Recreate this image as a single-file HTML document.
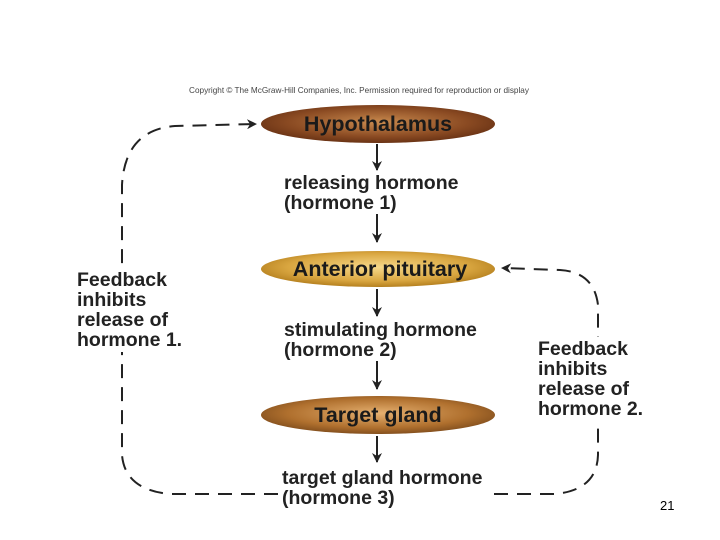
<!DOCTYPE html>
<html><head><style>
body{margin:0;width:720px;height:540px;background:#fff;position:relative;overflow:hidden;font-family:"Liberation Sans",sans-serif}
.t{position:absolute;font-weight:bold;color:#222;font-size:19.5px;line-height:20px;background:#fff}
</style></head><body>
<svg width="720" height="540" style="position:absolute;left:0;top:0">
<defs>
<radialGradient id="g1" cx="50%" cy="45%" r="55%"><stop offset="0" stop-color="#c98a4e"/><stop offset="0.7" stop-color="#8a4a22"/><stop offset="1" stop-color="#6a3315"/></radialGradient>
<radialGradient id="g2" cx="50%" cy="45%" r="55%"><stop offset="0" stop-color="#f6d98a"/><stop offset="0.7" stop-color="#d9a640"/><stop offset="1" stop-color="#b5801f"/></radialGradient>
<radialGradient id="g3" cx="50%" cy="45%" r="55%"><stop offset="0" stop-color="#e5b070"/><stop offset="0.7" stop-color="#b0702e"/><stop offset="1" stop-color="#84501e"/></radialGradient>
<marker id="a" markerWidth="10" markerHeight="10" refX="9" refY="5" orient="auto" markerUnits="userSpaceOnUse"><path d="M0,0 L10,5 L0,10 L3,5z" fill="#222"/></marker>
</defs>
<text x="359" y="93" font-size="8.2" fill="#444" text-anchor="middle" font-family="Liberation Sans">Copyright © The McGraw-Hill Companies, Inc. Permission required for reproduction or display</text>
<g stroke="#222" stroke-width="2" fill="none">
<line x1="377" y1="144" x2="377" y2="170" marker-end="url(#a)"/>
<line x1="377" y1="214" x2="377" y2="242" marker-end="url(#a)"/>
<line x1="377" y1="289" x2="377" y2="316" marker-end="url(#a)"/>
<line x1="377" y1="361" x2="377" y2="389" marker-end="url(#a)"/>
<line x1="377" y1="436" x2="377" y2="462" marker-end="url(#a)"/>
<g stroke-dasharray="14,9">
<path d="M278,494 L170,494 Q125,490 122,455 L122,185 Q125,130 175,126 L256,124" marker-end="url(#a)"/>
<path d="M402,494 L555,494 Q597,490 598,455 L598,305 Q594,272 560,270 L502,268" marker-end="url(#a)"/>
</g>
</g>
<ellipse cx="378" cy="124" rx="117" ry="19" fill="url(#g1)"/>
<ellipse cx="378" cy="269" rx="117" ry="18" fill="url(#g2)"/>
<ellipse cx="378" cy="415" rx="117" ry="19" fill="url(#g3)"/>
<g font-family="Liberation Sans" font-weight="bold" font-size="21.5" fill="#1a1a1a" text-anchor="middle">
<text x="378" y="131">Hypothalamus</text>
<text x="380" y="276">Anterior pituitary</text>
<text x="378" y="422">Target gland</text>
</g>
</svg>
<div class="t" style="left:284px;top:173px">releasing hormone<br>(hormone 1)</div>
<div class="t" style="left:284px;top:320px">stimulating hormone<br>(hormone 2)</div>
<div class="t" style="left:282px;top:468px;padding-right:4px">target gland hormone<br>(hormone 3)</div>
<div class="t" style="left:77px;top:268px;padding:2px 0">Feedback<br>inhibits<br>release of<br>hormone 1.</div>
<div class="t" style="left:538px;top:337px;padding:2px 0">Feedback<br>inhibits<br>release of<br>hormone 2.</div>
<div style="position:absolute;left:660px;top:498px;font-size:13px">21</div>
</body></html>
